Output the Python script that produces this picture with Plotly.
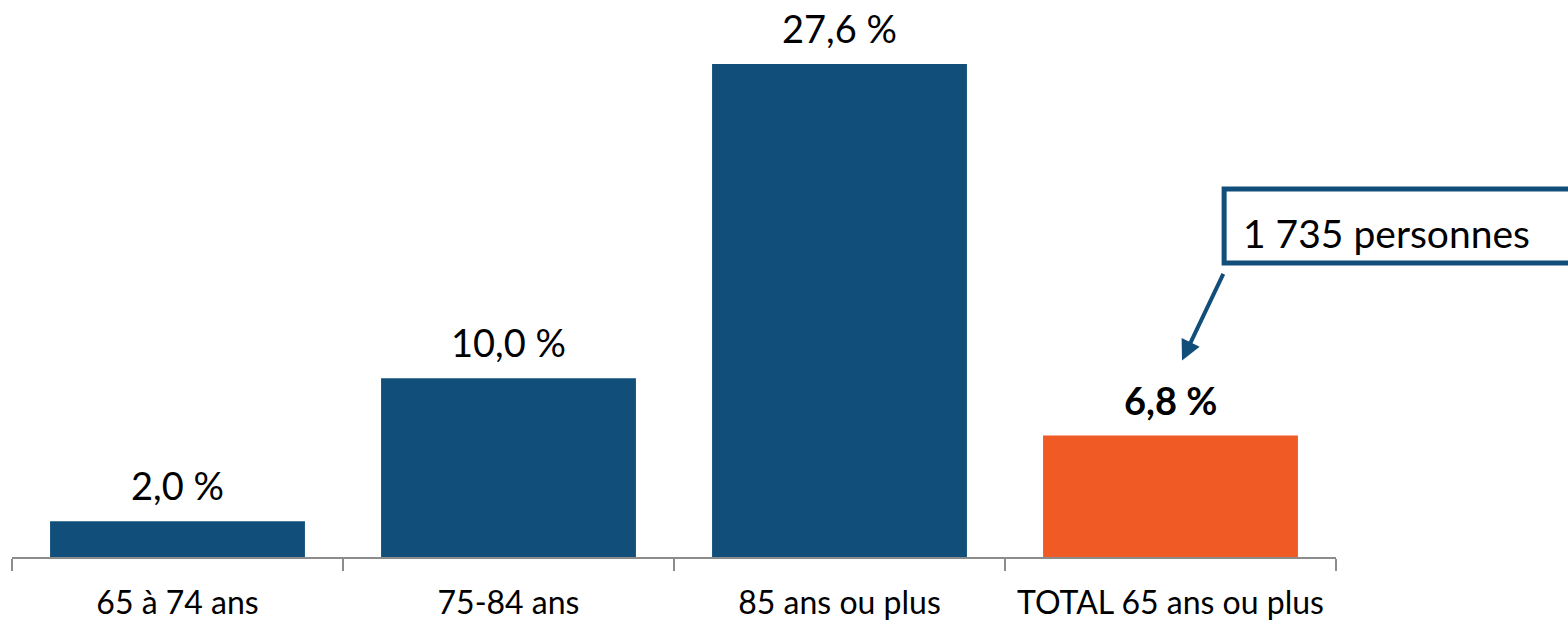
import plotly.graph_objects as go

categories = ["65 à 74 ans", "75-84 ans", "85 ans ou plus", "TOTAL 65 ans ou plus"]
values = [2.0, 10.0, 27.6, 6.8]
labels = ["2,0 %", "10,0 %", "27,6 %", "<b>6,8 %</b>"]
colors = ["#114F7A", "#114F7A", "#114F7A", "#F05A24"]
callout_text = "1 735 personnes"

FONT = "Lato"
BLUE = "#114F7A"
GRAY = "#8C8C8C"

fig = go.Figure()
fig.add_trace(go.Bar(
    x=categories, y=values, marker_color=colors, marker_line_width=0,
    hoverinfo="skip",
))

for c, v, t in zip(categories, values, labels):
    fig.add_annotation(x=c, y=v, text=t, showarrow=False, yanchor="bottom",
                       yshift=11, font=dict(family=FONT, size=38, color="#000000"))

# callout box
fig.add_shape(type="rect", xref="paper", yref="y", x0=0.9155, x1=1.25, y0=16.45, y1=20.6,
              line=dict(color=BLUE, width=5), fillcolor="rgba(0,0,0,0)")
fig.add_annotation(xref="paper", yref="y", x=0.928, y=18.15, text=callout_text,
                   showarrow=False, xanchor="left", yanchor="middle",
                   font=dict(family=FONT, size=39, color="#000000"))
fig.add_annotation(xref="paper", yref="y", x=0.8837, y=11.0, text="",
                   showarrow=True, ax=42, ay=-88, arrowcolor=BLUE, arrowwidth=4,
                   arrowhead=2, arrowsize=1)

fig.update_layout(
    width=1568, height=625,
    margin=dict(l=12, r=232, t=21, b=68),
    paper_bgcolor="white", plot_bgcolor="white",
    bargap=0.23, showlegend=False,
    font=dict(family=FONT, size=32, color="#000000"),
)
fig.update_xaxes(showline=True, linecolor=GRAY, linewidth=2, ticks="outside",
                 tickson="boundaries", ticklen=12, tickcolor=GRAY, tickwidth=2,
                 ticklabelstandoff=17, tickangle=0,
                 tickfont=dict(family=FONT, size=32, color="#000000"),
                 showgrid=False, range=[-0.5, 3.5], automargin=False)
fig.update_yaxes(visible=False, range=[0, 30], showgrid=False, zeroline=False)

fig.write_html("out.html", config={"displayModeBar": False},
               post_script="document.body.style.margin='0';")
